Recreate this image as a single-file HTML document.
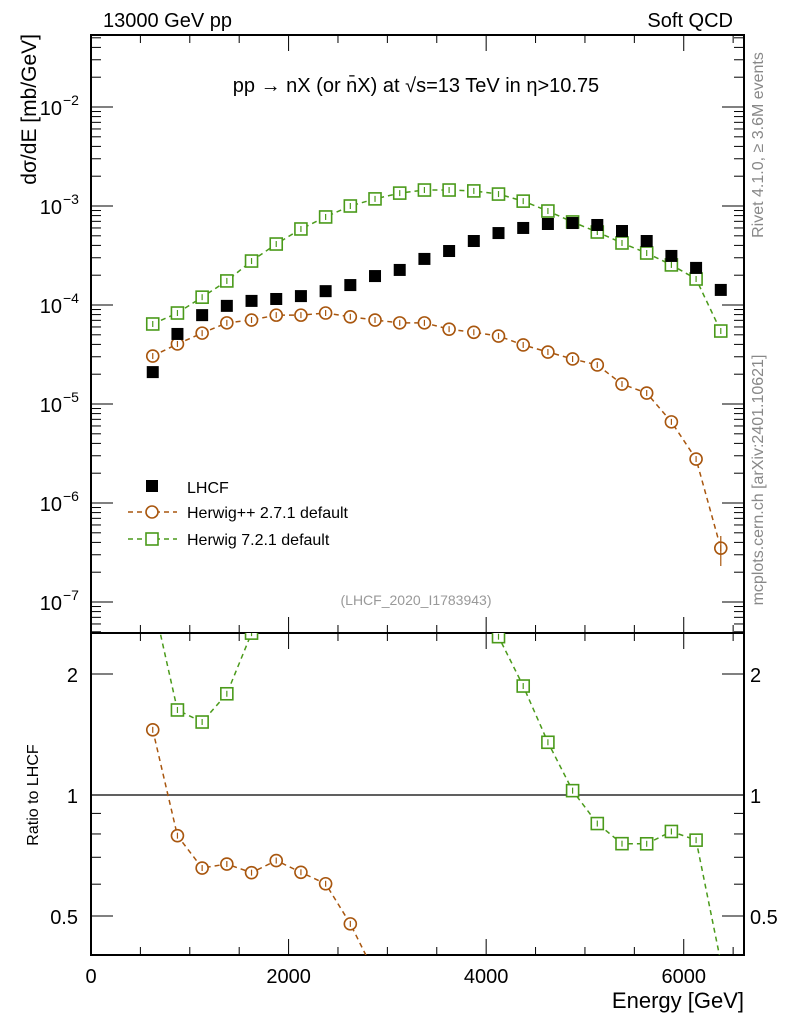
<!DOCTYPE html>
<html><head><meta charset="utf-8"><style>
html,body{margin:0;background:#fff;width:786px;height:1024px;overflow:hidden;}
svg{display:block;font-family:"Liberation Sans",sans-serif;}
</style></head><body>
<svg id="chart" width="786" height="1024" viewBox="0 0 786 1024" xmlns="http://www.w3.org/2000/svg">
<defs>
<clipPath id="clipMain"><rect x="91" y="35" width="653" height="598"/></clipPath>
<clipPath id="clipRatio"><rect x="91" y="633" width="653" height="322"/></clipPath>
</defs>
<g id="layer"></g>
</svg>
<script>
const energies = [625,875,1125,1375,1625,1875,2125,2375,2625,2875,3125,3375,3625,3875,4125,4375,4625,4875,5125,5375,5625,5875,6125,6375];
const lhcf = [2.1e-5,5.1e-5,7.9e-5,9.8e-5,1.10e-4,1.15e-4,1.23e-4,1.38e-4,1.59e-4,1.96e-4,2.26e-4,2.92e-4,3.51e-4,4.43e-4,5.33e-4,6.0e-4,6.58e-4,6.73e-4,6.43e-4,5.59e-4,4.43e-4,3.13e-4,2.37e-4,1.42e-4];
const herwigpp = [3.05e-5,4.04e-5,5.2e-5,6.6e-5,7.05e-5,7.9e-5,7.9e-5,8.3e-5,7.6e-5,7.05e-5,6.6e-5,6.6e-5,5.7e-5,5.3e-5,4.86e-5,3.95e-5,3.35e-5,2.85e-5,2.48e-5,1.59e-5,1.29e-5,6.6e-6,2.78e-6,3.5e-7];
const herwig7 = [6.43e-5,8.3e-5,1.2e-4,1.75e-4,2.78e-4,4.13e-4,5.86e-4,7.75e-4,1.0e-3,1.18e-3,1.35e-3,1.45e-3,1.45e-3,1.42e-3,1.32e-3,1.12e-3,8.9e-4,6.9e-4,5.46e-4,4.23e-4,3.35e-4,2.54e-4,1.83e-4,5.46e-5];
const xTicks = [0,2000,4000,6000];
const yDecades = [-7,-6,-5,-4,-3,-2];
const ratioTicks = [0.5,1,2];

const NS="http://www.w3.org/2000/svg";
const L=document.getElementById('layer');
const X0=91,X1=744,XMAX=6610;
const xs=v=>X0+(v/XMAX)*(X1-X0);
const ys=v=>107+(-2-Math.log10(v))*99;
const yr=v=>795-Math.log10(v)*402;
function el(tag,attrs,parent){const e=document.createElementNS(NS,tag);for(const k in attrs)e.setAttribute(k,attrs[k]);(parent||L).appendChild(e);return e;}
function txt(s,attrs,parent){const e=el('text',attrs,parent);e.textContent=s;return e;}

const f1=el('rect',{x:91,y:35,width:653,height:598,fill:'none',stroke:'#000','stroke-width':2});


const f2=el('rect',{x:91,y:633,width:653,height:322,fill:'none',stroke:'#000','stroke-width':2});



for(let v=0;v<=6500;v+=500){
  const major=v%2000===0, len=major?16:8;
  const x=xs(v);
  el('line',{x1:x,y1:35,x2:x,y2:35+len,stroke:'#000','stroke-width':1});
  el('line',{x1:x,y1:633,x2:x,y2:633-len,stroke:'#000','stroke-width':1});
  el('line',{x1:x,y1:633,x2:x,y2:633+len,stroke:'#000','stroke-width':1});
  el('line',{x1:x,y1:955,x2:x,y2:955-len,stroke:'#000','stroke-width':1});
}
xTicks.forEach(v=>{
  const t=txt(String(v),{x:xs(v),y:983,'font-size':20,'text-anchor':'middle'});
  
  
});
const xt=txt('Energy [GeV]',{x:744,y:1008,'font-size':22,'text-anchor':'end'});



for(let d=-8;d<=-2;d++){
  for(let m=1;m<10;m++){
    const v=m*Math.pow(10,d); const y=ys(v);
    if(y<35||y>633) continue;
    const len=m===1?22:10;
    el('line',{x1:91,y1:y,x2:91+len,y2:y,stroke:'#000','stroke-width':1});
    el('line',{x1:744,y1:y,x2:744-len,y2:y,stroke:'#000','stroke-width':1});
  }
}
yDecades.forEach(d=>{
  const t=txt('10',{x:62,y:ys(Math.pow(10,d))+8,'font-size':20,'text-anchor':'end'});
  
  
  const s=txt('\u2212'+Math.abs(d),{x:63,y:ys(Math.pow(10,d))-2,'font-size':14});
  
  
});
const yt=txt('d\u03c3/dE [mb/GeV]',{x:0,y:0,'font-size':21,'text-anchor':'end',transform:'translate(36,34) rotate(-90)'});



[0.4,0.5,0.6,0.7,0.8,0.9,1,2].forEach(v=>{
  const y=yr(v); if(y<633||y>955) return;
  const len=(v===0.5||v===1||v===2)?22:10;
  el('line',{x1:91,y1:y,x2:91+len,y2:y,stroke:'#000','stroke-width':1});
  el('line',{x1:744,y1:y,x2:744-len,y2:y,stroke:'#000','stroke-width':1});
});
ratioTicks.forEach(v=>{
  const t=txt(String(v),{x:78,y:yr(v)+8,'font-size':20,'text-anchor':'end'});
  
  
  const t2=txt(String(v),{x:750,y:yr(v)+8,'font-size':20});
  
  
});
el('line',{x1:91,y1:yr(1),x2:744,y2:yr(1),stroke:'#000','stroke-width':1.3});
const rt=txt('Ratio to LHCF',{x:0,y:0,'font-size':16,'text-anchor':'middle',transform:'translate(38,795) rotate(-90)'});



const gMain=el('g',{'clip-path':'url(#clipMain)'});


function series(vals,color,shape,name,g,yf){
  const pts=vals.map((v,i)=>xs(energies[i])+','+yf(v)).join(' ');
  const pl=el('polyline',{points:pts,fill:'none',stroke:color,'stroke-width':1.5,'stroke-dasharray':'5,4'},g);
  
  
  vals.forEach((v,i)=>{
    const x=xs(energies[i]),y=yf(v);
    let m;
    if(shape==='circle') m=el('circle',{cx:x,cy:y,r:6,fill:'#fff',stroke:color,'stroke-width':1.6},g);
    else m=el('rect',{x:x-6,y:y-6,width:12,height:12,fill:'#fff',stroke:color,'stroke-width':1.6},g);
    
    
    el('line',{x1:x,y1:y-3,x2:x,y2:y+3,stroke:color,'stroke-width':1.2},g);
  });
}
series(herwig7,'#4a9a1a','square','herwig7',gMain,ys);
series(herwigpp,'#a8560e','circle','herwigpp',gMain,ys);
{const x=xs(energies[23]);el('line',{x1:x,y1:536,x2:x,y2:566,stroke:'#a8560e','stroke-width':1.2},gMain);}
lhcf.forEach((v,i)=>{
  const r=el('rect',{x:xs(energies[i])-6,y:ys(v)-6,width:12,height:12,fill:'#000'},gMain);
  
  
});

const gR=el('g',{'clip-path':'url(#clipRatio)'});


series(herwig7.map((v,i)=>v/lhcf[i]),'#4a9a1a','square','herwig7-ratio',gR,yr);
series(herwigpp.map((v,i)=>v/lhcf[i]),'#a8560e','circle','herwigpp-ratio',gR,yr);

function label(s,a,name){const t=txt(s,a);return t;}
label('13000 GeV pp',{x:103,y:27,'font-size':20},'energy-label');
label('Soft QCD',{x:733,y:27,'font-size':20,'text-anchor':'end'},'process-label');
label('pp \u2192  nX (or n\u0304X) at \u221as=13 TeV in \u03b7>10.75',{x:416,y:92,'font-size':20,'text-anchor':'middle'},'plot-title');
label('(LHCF_2020_I1783943)',{x:416,y:605,'font-size':14,'text-anchor':'middle',fill:'#999'},'analysis-id');
label('Rivet 4.1.0, \u2265 3.6M events',{x:0,y:0,'font-size':16,'text-anchor':'middle',fill:'#888',transform:'translate(763,145) rotate(-90)'},'rivet-label');
label('mcplots.cern.ch [arXiv:2401.10621]',{x:0,y:0,'font-size':16,'text-anchor':'middle',fill:'#888',transform:'translate(763,480) rotate(-90)'},'mcplots-label');

const lg=el('g',{});


el('rect',{x:146,y:480,width:12,height:12,fill:'#000'},lg);
txt('LHCF',{x:187,y:493,'font-size':16},lg);
el('line',{x1:128,y1:512,x2:177,y2:512,stroke:'#a8560e','stroke-width':1.5,'stroke-dasharray':'5,4'},lg);
el('circle',{cx:152,cy:512,r:6,fill:'#fff',stroke:'#a8560e','stroke-width':1.6},lg);
txt('Herwig++ 2.7.1 default',{x:187,y:518,'font-size':16},lg);
el('line',{x1:128,y1:539,x2:177,y2:539,stroke:'#4a9a1a','stroke-width':1.5,'stroke-dasharray':'5,4'},lg);
el('rect',{x:146,y:533,width:12,height:12,fill:'#fff',stroke:'#4a9a1a','stroke-width':1.6},lg);
txt('Herwig 7.2.1 default',{x:187,y:545,'font-size':16},lg);
</script>
</body></html>
